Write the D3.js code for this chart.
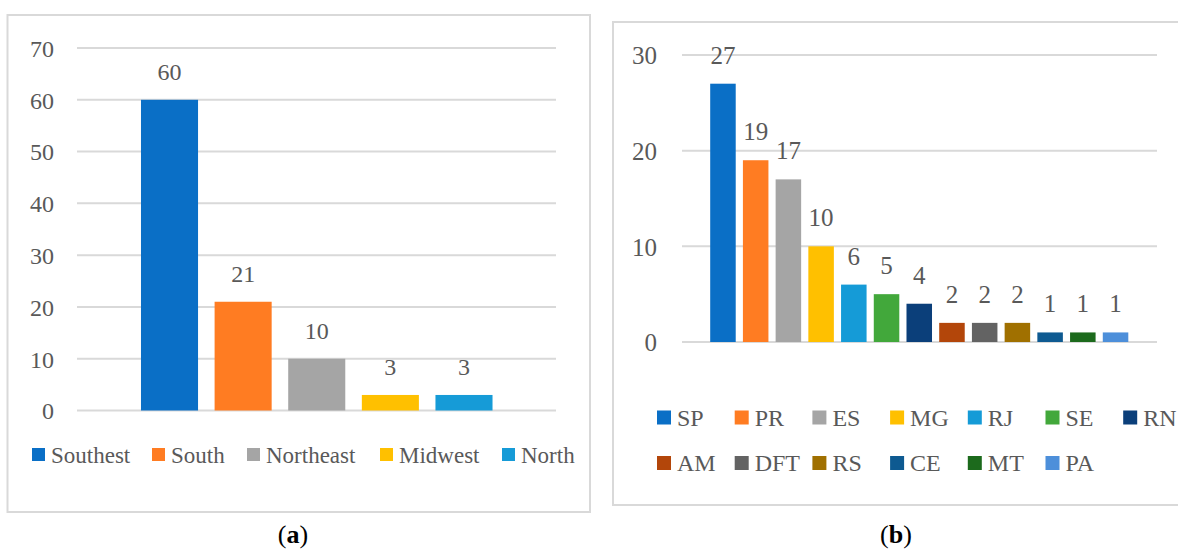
<!DOCTYPE html>
<html><head><meta charset="utf-8">
<script src="https://cdn.jsdelivr.net/npm/d3@7"></script>
<style>html,body{margin:0;padding:0;background:#fff;overflow:hidden}</style>
</head><body>
<svg id="c" width="1178" height="552"></svg>
<script>
// Panel (a)
const regionsA = ["Southest", "South", "Northeast", "Midwest", "North"];
const valuesA = [60, 21, 10, 3, 3];
const colorsA = ["#0A6FC6", "#FF7C22", "#A5A5A5", "#FFC000", "#169BD7"];
const ticksA = [0, 10, 20, 30, 40, 50, 60, 70];

// Panel (b)
const statesB = ["SP", "PR", "ES", "MG", "RJ", "SE", "RN", "AM", "DFT", "RS", "CE", "MT", "PA"];
const valuesB = [27, 19, 17, 10, 6, 5, 4, 2, 2, 2, 1, 1, 1];
const colorsB = ["#0A6FC6", "#FF7C22", "#A5A5A5", "#FFC000", "#159BD7", "#42A83B", "#0B3F7A",
                 "#B3460A", "#636363", "#A07000", "#0E5A91", "#1C6A1C", "#4D8FDA"];
const ticksB = [0, 10, 20, 30];

const svg = d3.select("#c");
const FONT = "'Liberation Serif', 'DejaVu Serif', serif";
const TXT = "#595959";
const GRID = "#D9D9D9";

// frames
svg.append("rect").attr("x", 7.5).attr("y", 15).attr("width", 582.5).attr("height", 497)
  .attr("fill", "none").attr("stroke", GRID).attr("stroke-width", 2);
svg.append("rect").attr("x", 613).attr("y", 22).attr("width", 600).attr("height", 483)
  .attr("fill", "none").attr("stroke", GRID).attr("stroke-width", 2);

function panel(cfg) {
  const g = svg.append("g");
  const y = d3.scaleLinear().domain([0, cfg.max]).range([cfg.y0, cfg.y1]);
  const x = d3.scaleBand().domain(cfg.cats).range(cfg.xr).paddingInner(cfg.pad).paddingOuter(cfg.pad / 2);
  // gridlines
  g.selectAll(".grid").data(cfg.ticks).join("line")
    .attr("x1", cfg.gx[0]).attr("x2", cfg.gx[1])
    .attr("y1", d => y(d)).attr("y2", d => y(d))
    .attr("stroke", GRID).attr("stroke-width", 2);
  // y axis labels
  const ax = d3.axisLeft(y).tickValues(cfg.ticks).tickSize(0).tickPadding(0);
  const axg = g.append("g").attr("transform", `translate(${cfg.labRight},0)`).call(ax);
  axg.select(".domain").remove();
  axg.attr("font-size", null).attr("font-family", null);
  axg.selectAll("text").attr("font-family", FONT).attr("font-size", cfg.afs).attr("fill", TXT)
    .attr("dy", "0.35em");
  // bars
  g.selectAll(".bar").data(cfg.cats).join("rect")
    .attr("x", d => x(d)).attr("width", x.bandwidth())
    .attr("y", (d, i) => y(cfg.vals[i])).attr("height", (d, i) => y(0) - y(cfg.vals[i]))
    .attr("fill", (d, i) => cfg.colors[i]);
  // value labels
  g.selectAll(".vl").data(cfg.cats).join("text")
    .attr("x", d => x(d) + x.bandwidth() / 2)
    .attr("y", (d, i) => y(cfg.vals[i]) - cfg.labOff)
    .attr("text-anchor", "middle").attr("font-family", FONT).attr("font-size", cfg.fs)
    .attr("fill", TXT).text((d, i) => cfg.vals[i]);
  // legend
  cfg.cats.forEach((c, i) => {
    const p = cfg.legendPos(i);
    g.append("rect").attr("x", p[0]).attr("y", p[1] - cfg.sq / 2).attr("width", cfg.sq).attr("height", cfg.sq)
      .attr("fill", cfg.colors[i]);
    g.append("text").attr("x", p[0] + cfg.sq + cfg.gap).attr("y", p[1]).attr("dy", "0.35em")
      .attr("font-family", FONT).attr("font-size", cfg.lfs).attr("fill", TXT).text(c);
  });
}

const legXA = [32, 152, 247, 380, 502];
panel({
  cats: regionsA, vals: valuesA, colors: colorsA, ticks: ticksA, max: 70,
  y0: 410.5, y1: 48, xr: [132.7, 500.8], pad: 0.225, gx: [77, 556], labRight: 54,
  fs: 24, afs: 24, lfs: 23, labOff: 20, sq: 13, gap: 6,
  legendPos: i => [legXA[i], 454.5]
});

panel({
  cats: statesB, vals: valuesB, colors: colorsB, ticks: ticksB, max: 30,
  y0: 342, y1: 55, xr: [706.6, 1131.9], pad: 0.22, gx: [682, 1157], labRight: 657,
  fs: 25, afs: 25, lfs: 24, labOff: 20, sq: 14, gap: 6,
  legendPos: i => [657 + (i % 7) * 77.7, i < 7 ? 417.5 : 463]
});

// captions
function caption(x, letter) {
  const t = svg.append("text").attr("x", x).attr("y", 543).attr("text-anchor", "middle")
    .attr("font-family", FONT).attr("font-size", 26).attr("fill", "#000");
  t.append("tspan").text("(");
  t.append("tspan").attr("font-weight", "bold").text(letter);
  t.append("tspan").text(")");
}
caption(293, "a");
caption(896, "b");
</script>
</body></html>
